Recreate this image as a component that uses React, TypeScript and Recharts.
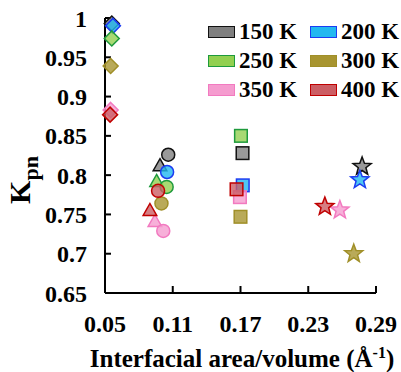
import React from 'react';
import { ScatterChart, Scatter, XAxis, YAxis, Legend, Label } from 'recharts';

// marker shape used for each point index (same order in every series)
const MARKERS = ['diamond', 'triangle', 'circle', 'square', 'star'];

const X_150 = [0.056, 0.0987, 0.106, 0.1718, 0.2777];
const Y_150 = [0.993, 0.812, 0.826, 0.828, 0.811];
const X_200 = [0.057, null, 0.105, 0.172, 0.2757];
const Y_200 = [0.99, null, 0.804, 0.787, 0.794];
const X_250 = [0.056, 0.0957, 0.1046, 0.1704, null];
const Y_250 = [0.974, 0.792, 0.785, 0.85, null];
const X_300 = [0.055, null, 0.1, 0.17, 0.2703];
const Y_300 = [0.939, null, 0.764, 0.747, 0.7];
const X_350 = [0.055, 0.0942, 0.1016, 0.1695, 0.258];
const Y_350 = [0.883, 0.741, 0.729, 0.772, 0.7555];
const X_400 = [0.0545, 0.0898, 0.097, 0.1665, 0.2447];
const Y_400 = [0.877, 0.755, 0.78, 0.782, 0.76];

const X_TICKS = [0.05, 0.11, 0.17, 0.23, 0.29];
const Y_TICKS = [0.65, 0.7, 0.75, 0.8, 0.85, 0.9, 0.95, 1];

const SERIES = [
  { name: '150 K', xs: X_150, ys: Y_150, fill: '#7f7f7f', stroke: '#111111' },
  { name: '200 K', xs: X_200, ys: Y_200, fill: '#22b8f0', stroke: '#1c3cf2' },
  { name: '250 K', xs: X_250, ys: Y_250, fill: '#92d050', stroke: '#1e9a3c' },
  { name: '300 K', xs: X_300, ys: Y_300, fill: '#a89530', stroke: '#a08f28' },
  { name: '350 K', xs: X_350, ys: Y_350, fill: '#f59ccf', stroke: '#f27ac0' },
  { name: '400 K', xs: X_400, ys: Y_400, fill: '#cc5e64', stroke: '#c00000' },
];

const FONT = '"Liberation Serif", "Times New Roman", serif';

const toPoints = (xs: (number | null)[], ys: (number | null)[]) =>
  xs
    .map((x, i) => ({ x, y: ys[i], marker: MARKERS[i] }))
    .filter(p => p.x != null && p.y != null);

const starPath = (cx: number, cy: number, ro: number, ri: number) => {
  let d = '';
  for (let i = 0; i < 10; i++) {
    const r = i % 2 === 0 ? ro : ri;
    const a = -Math.PI / 2 + (i * Math.PI) / 5;
    d += `${i === 0 ? 'M' : 'L'}${cx + r * Math.cos(a)},${cy + r * Math.sin(a)}`;
  }
  return d + 'Z';
};

const makeShape = (fill: string, stroke: string) => (props: any) => {
  const { cx, cy, payload } = props;
  const common = { fill, fillOpacity: 0.8, stroke, strokeWidth: 1.5 };
  switch (payload.marker) {
    case 'diamond':
      return <path d={`M${cx},${cy - 7.5}L${cx + 7.5},${cy}L${cx},${cy + 7.5}L${cx - 7.5},${cy}Z`} {...common} />;
    case 'triangle':
      return <path d={`M${cx},${cy - 7}L${cx + 6.8},${cy + 5}L${cx - 6.8},${cy + 5}Z`} {...common} />;
    case 'circle':
      return <circle cx={cx} cy={cy} r={6.5} {...common} />;
    case 'square':
      return <rect x={cx - 6.3} y={cy - 6.3} width={12.6} height={12.6} {...common} />;
    default:
      return <path d={starPath(cx, cy, 9.5, 4)} {...common} />;
  }
};

const LegendBox = () => (
  <div
    style={{
      display: 'grid',
      gridTemplateColumns: '102px 92px',
      rowGap: 6,
      fontFamily: FONT,
      fontWeight: 'bold',
      fontSize: 23,
      lineHeight: '23px',
      color: '#000',
    }}
  >
    {SERIES.map(s => (
      <div key={s.name} style={{ display: 'flex', alignItems: 'center' }}>
        <span
          style={{
            display: 'inline-block',
            width: 25,
            height: 10,
            background: s.fill,
            border: `1.5px solid ${s.stroke}`,
            marginRight: 4,
          }}
        />
        {s.name}
      </div>
    ))}
  </div>
);

export default function App() {
  return (
    <div style={{ position: 'absolute', left: 0, top: 0, background: '#fff' }}>
      <ScatterChart width={401} height={372} margin={{ top: 18, right: 25, bottom: 29, left: 10 }}>
        <XAxis
          type="number"
          dataKey="x"
          domain={[0.05, 0.29]}
          ticks={X_TICKS}
          tickFormatter={(v: number) => v.toFixed(2)}
          height={50}
          tickSize={-7}
          tickMargin={29}
          axisLine={{ stroke: '#000', strokeWidth: 2 }}
          tickLine={{ stroke: '#000', strokeWidth: 2 }}
          tick={{ fill: '#000', fontFamily: FONT, fontWeight: 'bold', fontSize: 24 }}
          interval={0}
        >
          <Label
            content={() => (
              <text x={242} y={367} textAnchor="middle" fontFamily={FONT} fontWeight="bold" fontSize={25} fill="#000">
                Interfacial area/volume (Å
                <tspan dy={-9} fontSize={16}>-1</tspan>
                <tspan dy={9}>)</tspan>
              </text>
            )}
          />
        </XAxis>
        <YAxis
          type="number"
          dataKey="y"
          domain={[0.65, 1]}
          ticks={Y_TICKS}
          width={95}
          tickSize={-6}
          tickMargin={24}
          axisLine={{ stroke: '#000', strokeWidth: 2 }}
          tickLine={{ stroke: '#000', strokeWidth: 2 }}
          tick={{ fill: '#000', fontFamily: FONT, fontWeight: 'bold', fontSize: 24 }}
          interval={0}
        >
          <Label
            content={() => (
              <text
                x={30}
                y={180}
                transform="rotate(-90 30 180)"
                textAnchor="middle"
                fontFamily={FONT}
                fontWeight="bold"
                fontSize={30}
                fill="#000"
              >
                K<tspan dy={8} fontSize={22}>pn</tspan>
              </text>
            )}
          />
        </YAxis>
        <Legend
          layout="horizontal"
          verticalAlign="middle"
          align="center"
          wrapperStyle={{ position: 'absolute', left: 208, top: 20, width: 200 }}
          content={() => <LegendBox />}
        />
        {SERIES.map(s => (
          <Scatter
            key={s.name}
            name={s.name}
            data={toPoints(s.xs, s.ys)}
            shape={makeShape(s.fill, s.stroke)}
            isAnimationActive={false}
          />
        ))}
      </ScatterChart>
    </div>
  );
}
